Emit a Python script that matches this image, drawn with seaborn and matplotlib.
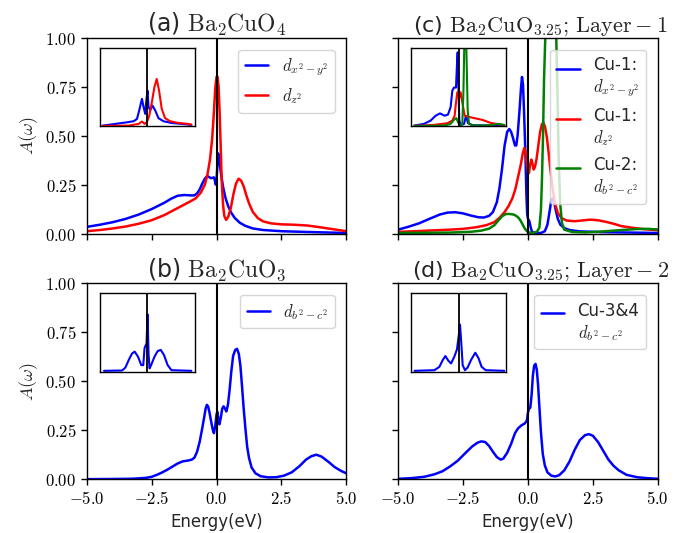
import numpy as np
import pandas as pd
import matplotlib
matplotlib.use("Agg")
import matplotlib.pyplot as plt
import seaborn as sns
from matplotlib.ticker import FuncFormatter
from matplotlib.legend_handler import HandlerLine2D

# ---------------- data ----------------
# (a) Ba2CuO4
a_blue_E = [-5.0, -4.5, -4.0, -3.5, -3.0, -2.5, -2.0, -1.75, -1.5, -1.25, -1.0, -0.85, -0.75, -0.65, -0.55, -0.45, -0.37, -0.3, -0.22, -0.15, -0.1, -0.06, -0.03, 0.0, 0.03, 0.06, 0.09, 0.13, 0.18, 0.25, 0.35, 0.45, 0.55, 0.7, 0.9, 1.1, 1.4, 1.8, 2.5, 3.5, 5.0]
a_blue_A = [0.034, 0.045, 0.058, 0.075, 0.097, 0.125, 0.158, 0.178, 0.193, 0.197, 0.195, 0.195, 0.205, 0.225, 0.255, 0.28, 0.293, 0.29, 0.283, 0.285, 0.287, 0.27, 0.25, 0.27, 0.34, 0.41, 0.40, 0.35, 0.30, 0.24, 0.18, 0.14, 0.11, 0.08, 0.055, 0.04, 0.026, 0.018, 0.012, 0.008, 0.003]
a_red_E = [-5.0, -4.5, -4.0, -3.5, -3.0, -2.5, -2.0, -1.5, -1.0, -0.8, -0.6, -0.45, -0.35, -0.25, -0.17, -0.1, -0.05, 0.0, 0.04, 0.08, 0.12, 0.16, 0.2, 0.25, 0.3, 0.37, 0.45, 0.55, 0.65, 0.75, 0.85, 0.95, 1.05, 1.15, 1.25, 1.4, 1.6, 1.8, 2.1, 2.5, 3.0, 3.5, 4.0, 4.5, 5.0]
a_red_A = [0.012, 0.018, 0.026, 0.036, 0.05, 0.068, 0.095, 0.13, 0.165, 0.18, 0.21, 0.25, 0.30, 0.38, 0.48, 0.62, 0.74, 0.80, 0.80, 0.75, 0.62, 0.45, 0.27, 0.15, 0.09, 0.07, 0.085, 0.13, 0.20, 0.255, 0.28, 0.27, 0.24, 0.195, 0.155, 0.11, 0.078, 0.062, 0.052, 0.047, 0.045, 0.041, 0.032, 0.022, 0.012]

# (b) Ba2CuO3
b_blue_E = [-5.0, -4.0, -3.3, -3.0, -2.7, -2.5, -2.3, -2.1, -1.9, -1.7, -1.5, -1.3, -1.1, -0.95, -0.85, -0.75, -0.65, -0.55, -0.47, -0.42, -0.37, -0.32, -0.27, -0.2, -0.14, -0.1, -0.05, 0.0, 0.03, 0.07, 0.11, 0.16, 0.22, 0.27, 0.33, 0.38, 0.44, 0.5, 0.57, 0.64, 0.72, 0.79, 0.86, 0.92, 0.98, 1.05, 1.12, 1.18, 1.25, 1.35, 1.5, 1.7, 2.0, 2.3, 2.6, 2.9, 3.2, 3.45, 3.65, 3.85, 4.05, 4.3, 4.55, 4.8, 5.0]
b_blue_A = [0.0, 0.001, 0.002, 0.004, 0.007, 0.012, 0.022, 0.034, 0.048, 0.064, 0.08, 0.091, 0.095, 0.1, 0.11, 0.14, 0.19, 0.26, 0.32, 0.36, 0.38, 0.37, 0.34, 0.29, 0.25, 0.235, 0.27, 0.33, 0.345, 0.31, 0.28, 0.31, 0.36, 0.372, 0.36, 0.346, 0.38, 0.45, 0.55, 0.63, 0.66, 0.666, 0.64, 0.58, 0.48, 0.355, 0.25, 0.167, 0.11, 0.06, 0.03, 0.015, 0.009, 0.01, 0.018, 0.035, 0.067, 0.1, 0.117, 0.125, 0.115, 0.09, 0.062, 0.042, 0.03]

# (c) Ba2CuO3.25 Layer-1
c_blue_E = [-5.0, -4.6, -4.2, -3.8, -3.4, -3.1, -2.8, -2.5, -2.2, -1.9, -1.7, -1.5, -1.35, -1.2, -1.1, -1.0, -0.9, -0.8, -0.72, -0.65, -0.58, -0.5, -0.45, -0.4, -0.33, -0.27, -0.23, -0.19, -0.15, -0.1, -0.06, -0.03, 0.0, 0.03, 0.06, 0.1, 0.15, 0.25, 0.5, 0.65, 0.75, 0.83, 0.9, 0.95, 1.0, 1.07, 1.15, 1.25, 1.4, 1.6, 2.0, 3.0, 4.0, 5.0]
c_blue_A = [0.02, 0.035, 0.052, 0.075, 0.097, 0.107, 0.109, 0.103, 0.092, 0.083, 0.082, 0.09, 0.11, 0.16, 0.23, 0.33, 0.45, 0.52, 0.534, 0.52, 0.49, 0.45, 0.45, 0.50, 0.62, 0.74, 0.80, 0.76, 0.62, 0.42, 0.20, 0.10, 0.075, 0.07, 0.06, 0.035, 0.01, 0.003, 0.003, 0.012, 0.045, 0.11, 0.17, 0.18, 0.165, 0.12, 0.075, 0.045, 0.028, 0.018, 0.011, 0.007, 0.005, 0.003]
c_red_E = [-5.0, -4.0, -3.0, -2.5, -2.0, -1.6, -1.3, -1.1, -0.9, -0.75, -0.6, -0.48, -0.38, -0.28, -0.2, -0.14, -0.09, -0.04, 0.0, 0.04, 0.08, 0.13, 0.17, 0.22, 0.27, 0.33, 0.4, 0.47, 0.54, 0.6, 0.66, 0.73, 0.8, 0.87, 0.95, 1.05, 1.15, 1.3, 1.5, 1.8, 2.1, 2.4, 2.7, 3.0, 3.3, 3.6, 4.0, 4.5, 5.0]
c_red_A = [0.0085, 0.014, 0.02, 0.024, 0.032, 0.043, 0.058, 0.08, 0.11, 0.14, 0.18, 0.23, 0.29, 0.35, 0.41, 0.437, 0.41, 0.35, 0.315, 0.31, 0.35, 0.378, 0.36, 0.327, 0.34, 0.38, 0.45, 0.52, 0.56, 0.565, 0.545, 0.49, 0.41, 0.32, 0.23, 0.15, 0.105, 0.078, 0.066, 0.063, 0.067, 0.071, 0.068, 0.06, 0.05, 0.038, 0.03, 0.022, 0.017]
c_green_E = [-5.0, -3.0, -2.2, -1.8, -1.5, -1.3, -1.15, -1.0, -0.85, -0.7, -0.55, -0.45, -0.36, -0.28, -0.2, -0.12, -0.04, 0.05, 0.2, 0.35, 0.44, 0.5, 0.54, 0.58, 0.62, 0.69, 0.78, 0.9, 1.0, 1.09, 1.14, 1.18, 1.24, 1.31, 1.4, 1.7, 2.2, 2.8, 3.5, 4.2, 4.6, 5.0]
c_green_A = [0.003, 0.005, 0.009, 0.015, 0.025, 0.042, 0.065, 0.088, 0.1, 0.1, 0.097, 0.09, 0.08, 0.065, 0.045, 0.025, 0.012, 0.005, 0.003, 0.01, 0.03, 0.12, 0.28, 0.5, 0.79, 1.1, 1.7, 2.2, 1.8, 1.0, 0.7, 0.4, 0.156, 0.054, 0.02, 0.008, 0.006, 0.01, 0.017, 0.023, 0.024, 0.021]

# (d) Ba2CuO3.25 Layer-2
d_blue_E = [-5.0, -4.5, -4.0, -3.6, -3.3, -3.0, -2.7, -2.4, -2.15, -1.95, -1.8, -1.65, -1.5, -1.35, -1.2, -1.05, -0.95, -0.8, -0.65, -0.5, -0.38, -0.25, -0.12, -0.04, 0.0, 0.04, 0.09, 0.14, 0.19, 0.24, 0.29, 0.34, 0.39, 0.44, 0.5, 0.57, 0.65, 0.75, 0.9, 1.05, 1.2, 1.4, 1.6, 1.8, 2.0, 2.2, 2.35, 2.5, 2.7, 2.9, 3.1, 3.3, 3.5, 3.8, 4.2, 4.6, 5.0]
d_blue_A = [0.002, 0.005, 0.012, 0.025, 0.04, 0.065, 0.095, 0.135, 0.167, 0.186, 0.193, 0.19, 0.17, 0.14, 0.113, 0.1, 0.105, 0.135, 0.18, 0.235, 0.26, 0.275, 0.285, 0.3, 0.34, 0.36, 0.365, 0.43, 0.53, 0.58, 0.589, 0.56, 0.48, 0.37, 0.24, 0.13, 0.07, 0.035, 0.018, 0.014, 0.02, 0.045, 0.09, 0.15, 0.2, 0.225, 0.23, 0.222, 0.19, 0.145, 0.1, 0.068, 0.045, 0.022, 0.01, 0.005, 0.002]

# insets (wide energy window, normalised height)
ia_blue_E = [-9.4, -6.67, -4.58, -2.85, -2.15, -1.6, -1.11, -0.76, -0.42, -0.14, 0.07, 0.28, 0.63, 1.11, 1.67, 2.36, 3.4, 5.1, 7.2, 9.3]
ia_blue_A = [0.004, 0.026, 0.043, 0.06, 0.09, 0.218, 0.346, 0.24, 0.154, 0.35, 0.45, 0.24, 0.2, 0.26, 0.2, 0.1, 0.06, 0.038, 0.026, 0.013]
ia_red_E = [-9.4, -3.9, -1.8, -1.11, -0.55, -0.07, 0.42, 0.97, 1.53, 2.0, 2.5, 3.05, 3.75, 4.8, 6.5, 8.6, 9.3]
ia_red_A = [0.0, 0.004, 0.026, 0.056, 0.026, 0.047, 0.13, 0.30, 0.50, 0.60, 0.45, 0.22, 0.10, 0.06, 0.038, 0.026, 0.017]

ib_blue_E = [-9.1, -5.3, -4.6, -3.9, -3.2, -2.64, -1.94, -1.25, -0.83, -0.56, -0.35, -0.14, 0.07, 0.28, 0.49, 0.83, 1.53, 2.22, 2.85, 3.54, 4.3, 5.1, 9.3]
ib_blue_A = [0.009, 0.013, 0.05, 0.146, 0.23, 0.254, 0.19, 0.082, 0.082, 0.30, 0.33, 0.36, 0.73, 0.23, 0.04, 0.082, 0.19, 0.263, 0.276, 0.21, 0.082, 0.017, 0.009]

ic_blue_E = [-9.4, -7.3, -5.9, -4.86, -3.94, -2.96, -2.25, -1.69, -1.34, -0.99, -0.56, -0.35, -0.21, -0.07, 0.14, 0.42, 1.13, 1.55, 1.97, 2.9, 9.6]
ic_blue_A = [0.004, 0.026, 0.068, 0.13, 0.16, 0.13, 0.145, 0.24, 0.45, 0.49, 0.49, 0.79, 0.94, 0.54, 0.068, 0.009, 0.026, 0.13, 0.034, 0.009, 0.004]
ic_red_E = [-9.4, -5.2, -2.4, -1.34, -0.85, -0.56, -0.28, 0.07, 0.42, 0.77, 1.27, 1.83, 3.24, 5.0, 6.76, 9.6]
ic_red_A = [0.0, 0.013, 0.034, 0.068, 0.13, 0.30, 0.43, 0.35, 0.43, 0.30, 0.13, 0.12, 0.10, 0.077, 0.038, 0.009]
ic_green_E = [-9.4, -3.1, -1.69, -0.99, -0.49, -0.14, 0.28, 0.77, 0.99, 1.13, 1.27, 1.48, 1.69, 1.9, 2.18, 3.24, 6.76, 8.17, 9.6]
ic_green_A = [0.0, 0.004, 0.026, 0.077, 0.10, 0.047, 0.004, 0.026, 0.41, 0.84, 1.4, 1.4, 0.79, 0.2, 0.026, 0.004, 0.009, 0.026, 0.013]

id_blue_E = [-9.3, -5.1, -4.06, -3.36, -2.8, -2.17, -1.6, -0.91, -0.35, 0.0, 0.28, 0.56, 0.84, 1.33, 1.89, 2.59, 3.5, 4.2, 4.83, 5.7, 9.6]
id_blue_A = [0.009, 0.017, 0.06, 0.146, 0.198, 0.138, 0.103, 0.19, 0.284, 0.45, 0.6, 0.36, 0.082, 0.017, 0.052, 0.146, 0.24, 0.168, 0.06, 0.017, 0.009]

xticks = [-5.0, -2.5, 0.0, 2.5, 5.0]
yticks = [0.0, 0.25, 0.5, 0.75, 1.0]

# ---------------- styling ----------------
sns.set_theme(style="ticks")
plt.rcParams.update({
    "font.family": ["DejaVu Sans"],
    "mathtext.fontset": "cm",
    "font.size": 11,
    "axes.linewidth": 1.0,
    "xtick.direction": "out",
    "ytick.direction": "out",
})


class TopHandler(HandlerLine2D):
    """Place the legend line level with the first line of a two-line label."""
    def __init__(self, shift, **kw):
        super().__init__(**kw)
        self.shift = shift

    def create_artists(self, legend, orig_handle, xdescent, ydescent, width, height, fontsize, trans):
        arts = super().create_artists(legend, orig_handle, xdescent, ydescent, width, height, fontsize, trans)
        for a in arts:
            a.set_ydata(np.asarray(a.get_ydata(), dtype=float) + self.shift * fontsize)
        return arts


fig, axes = plt.subplots(2, 2, figsize=(6.83, 5.33), dpi=100, sharex=True)
fig.subplots_adjust(left=0.127, right=0.963, top=0.929, bottom=0.101, wspace=0.2, hspace=0.255)

fmt_x = FuncFormatter(lambda v, p: f"${v:.1f}$")
fmt_y = FuncFormatter(lambda v, p: f"${v:.2f}$")


def draw(ax, E, A, color, label, lw=1.8):
    df = pd.DataFrame({"E": E, "A": A})
    sns.lineplot(data=df, x="E", y="A", ax=ax, color=color, lw=lw, label=label, sort=False)


def inset(ax, curves):
    ins = ax.inset_axes([0.05, 0.55, 0.366, 0.40])
    for E, A, c in curves:
        df = pd.DataFrame({"E": E, "A": A})
        sns.lineplot(data=df, x="E", y="A", ax=ins, color=c, lw=1.5, sort=False)
    ins.axvline(0, color="black", lw=1.3)
    ins.set_xlim(-10, 10)
    ins.set_ylim(0, 1)
    ins.set_xticks([])
    ins.set_yticks([])
    ins.set_xlabel("")
    ins.set_ylabel("")
    for s in ins.spines.values():
        s.set_linewidth(1.0)
        s.set_color("black")
    return ins


axa, axc = axes[0]
axb, axd = axes[1]

draw(axa, a_blue_E, a_blue_A, "blue", r"$d_{x^2-y^2}$")
draw(axa, a_red_E, a_red_A, "red", r"$d_{z^2}$")
inset(axa, [(ia_blue_E, ia_blue_A, "blue"), (ia_red_E, ia_red_A, "red")])

draw(axb, b_blue_E, b_blue_A, "blue", r"$d_{b^2-c^2}$")
inset(axb, [(ib_blue_E, ib_blue_A, "blue")])

draw(axc, c_blue_E, c_blue_A, "blue", "Cu-1:\n" + r"$d_{x^2-y^2}$")
draw(axc, c_red_E, c_red_A, "red", "Cu-1:\n" + r"$d_{z^2}$")
draw(axc, c_green_E, c_green_A, "green", "Cu-2:\n" + r"$d_{b^2-c^2}$")
inset(axc, [(ic_blue_E, ic_blue_A, "blue"), (ic_red_E, ic_red_A, "red"), (ic_green_E, ic_green_A, "green")])

draw(axd, d_blue_E, d_blue_A, "blue", "Cu-3&4\n" + r"$d_{b^2-c^2}$")
inset(axd, [(id_blue_E, id_blue_A, "blue")])

titles = {
    axa: (r"(a) $\mathrm{Ba_2CuO_4}$", 17, 0.5),
    axb: (r"(b) $\mathrm{Ba_2CuO_3}$", 17, 0.5),
    axc: (r"(c) $\mathrm{Ba_2CuO_{3.25}};\,\mathrm{Layer}-1$", 16, 0.547),
    axd: (r"(d) $\mathrm{Ba_2CuO_{3.25}};\,\mathrm{Layer}-2$", 16, 0.547),
}

for ax in [axa, axb, axc, axd]:
    ax.axvline(0, color="black", lw=1.5)
    ax.set_xlim(-5, 5)
    ax.set_ylim(0, 1)
    ax.set_xticks(xticks)
    ax.set_yticks(yticks)
    ax.xaxis.set_major_formatter(fmt_x)
    ax.yaxis.set_major_formatter(fmt_y)
    ax.tick_params(labelsize=12, length=4, width=1, colors="black")
    t, fs, xpos = titles[ax]
    ax.set_title(t, fontsize=fs, pad=4, x=xpos)
    ax.set_xlabel("")
    ax.set_ylabel("")
    for s in ax.spines.values():
        s.set_visible(True)
        s.set_color("black")
        s.set_linewidth(1.0)

for ax in [axc, axd]:
    ax.tick_params(labelleft=False)

for ax in [axa, axb]:
    ax.set_ylabel(r"$A(\omega)$", fontsize=13)
for ax in [axb, axd]:
    ax.set_xlabel("Energy(eV)", fontsize=12)

common = dict(loc="upper right", fontsize=12, handlelength=1.4, framealpha=0.8, borderaxespad=0.7)
axa.legend(**common)
axb.legend(**common)
axc.legend(**common, labelspacing=0.5, handler_map={matplotlib.lines.Line2D: TopHandler(0.6)})
axd.legend(**common, handler_map={matplotlib.lines.Line2D: TopHandler(0.6)})

fig.savefig("out.png", dpi=100)
